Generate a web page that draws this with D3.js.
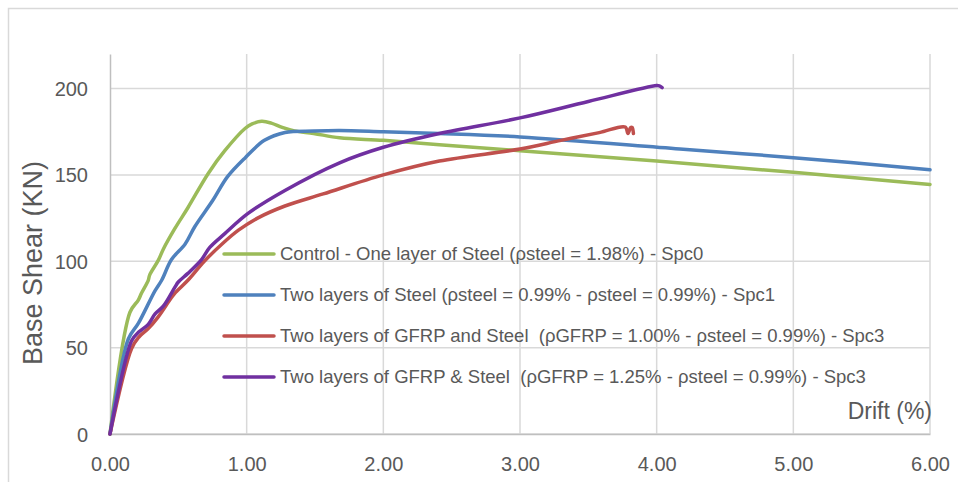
<!DOCTYPE html>
<html>
<head>
<meta charset="utf-8">
<script src="https://cdn.jsdelivr.net/npm/d3@7"></script>
<style>
  html, body { margin: 0; padding: 0; background: #fff; }
  svg { display: block; }
  text { font-family: "Liberation Sans", "DejaVu Sans", sans-serif; fill: #595959; white-space: pre; }
</style>
</head>
<body>
<svg id="chart" width="958" height="482"></svg>
<script>
// Base shear vs drift curves, one array of [drift %, shear kN] per specimen
const spc0 = [[0,0],[0.146,70.5],[0.207,77.5],[0.23,81.5],[0.28,89],[0.29,92],[0.353,100.5],[0.39,107],[0.475,119],[0.57,131],[0.72,151],[0.84,164],[0.99,177],[1.04,179.5],[1.11,181],[1.18,180],[1.26,177.5],[1.35,175.5],[1.49,174],[1.68,171.5],[2.0,170],[2.41,167.5],[3.0,164],[4.0,158],[5.0,151.5],[6.0,144.5]];
const spc1 = [[0,0],[0.134,55],[0.207,64],[0.33,83],[0.378,89],[0.45,101],[0.55,110],[0.62,120],[0.75,135],[0.86,149],[0.99,160],[1.13,170],[1.28,174.6],[1.49,175.4],[1.68,175.7],[2.0,175],[2.41,174],[3.0,172],[4.17,165],[5.0,160],[6.0,153]];
const spc3a = [[0,0],[0.158,49.5],[0.21,56],[0.28,61],[0.35,67.5],[0.45,79],[0.48,82],[0.57,89],[0.69,100],[0.82,110],[0.94,118],[1.08,125],[1.28,132],[1.56,139],[2.0,150],[2.41,158],[3.0,165],[3.3,170],[3.58,174.5],[3.77,177.7],[3.79,174],[3.81,177.5],[3.82,177.5],[3.83,174]];
const spc3b = [[0,0],[0.158,54],[0.21,59],[0.28,63.5],[0.33,69.5],[0.39,74],[0.475,85],[0.50,88],[0.57,93],[0.67,101],[0.73,108],[0.84,116],[1.01,127.7],[1.28,141],[1.68,157],[2.0,166],[2.41,174],[3.0,183],[3.5,192.5],[4.0,201.7],[4.02,201.5],[4.04,200.5]];

const seriesNames = [
  "Control - One layer of Steel (\u03C1steel = 1.98%) - Spc0",
  "Two layers of Steel (\u03C1steel = 0.99% - \u03C1steel = 0.99%) - Spc1",
  "Two layers of GFRP and Steel  (\u03C1GFRP = 1.00% - \u03C1steel = 0.99%) - Spc3",
  "Two layers of GFRP & Steel  (\u03C1GFRP = 1.25% - \u03C1steel = 0.99%) - Spc3"
];
const seriesData = [spc0, spc1, spc3a, spc3b];
const seriesColors = ["#9bbb59", "#4f81bd", "#c0504d", "#7030a0"];

const xTicks = [0, 1, 2, 3, 4, 5, 6];
const yTicks = [0, 50, 100, 150, 200];
const xTitle = "Drift (%)";
const yTitle = "Base Shear (KN)";

const svg = d3.select("#chart");
const m = { left: 110, right: 930, top: 54, bottom: 434 };

// chart frame
svg.append("rect")
  .attr("x", 8.5).attr("y", 8.5).attr("width", 960).attr("height", 490)
  .attr("fill", "none").attr("stroke", "#d9d9d9").attr("stroke-width", 1.5);

const x = d3.scaleLinear().domain([0, 6]).range([m.left, m.right]);
const y = d3.scaleLinear().domain([0, 220]).range([m.bottom, m.top]);

// gridlines
svg.append("g").selectAll("line").data(xTicks.slice(1)).join("line")
  .attr("x1", d => x(d)).attr("x2", d => x(d))
  .attr("y1", m.top).attr("y2", m.bottom)
  .attr("stroke", "#d9d9d9").attr("stroke-width", 1.5);
svg.append("g").selectAll("line").data(yTicks).join("line")
  .attr("x1", m.left).attr("x2", m.right)
  .attr("y1", d => y(d)).attr("y2", d => y(d))
  .attr("stroke", "#d9d9d9").attr("stroke-width", 1.5);

// axes
const yAxis = svg.append("g").attr("transform", `translate(${m.left},0)`)
  .call(d3.axisLeft(y).tickValues(yTicks).tickSize(0).tickPadding(22).tickFormat(d3.format("d")));
const xAxis = svg.append("g").attr("transform", `translate(0,${m.bottom})`)
  .call(d3.axisBottom(x).tickValues(xTicks).tickSize(0).tickPadding(27).tickFormat(d3.format(".2f")));
[yAxis, xAxis].forEach(g => {
  g.select(".domain").attr("stroke", "#bfbfbf").attr("stroke-width", 1.5);
  g.selectAll("text").attr("font-size", 20).attr("fill", "#595959")
    .attr("font-family", "Liberation Sans, sans-serif");
});
yAxis.selectAll("text").attr("dy", "0.35em");
xAxis.selectAll("text").attr("dy", "0.5em");

// curves
const line = d3.line().x(d => x(d[0])).y(d => y(d[1])).curve(d3.curveCatmullRom.alpha(0.5));
svg.append("g").selectAll("path").data(seriesData).join("path")
  .attr("d", line)
  .attr("fill", "none")
  .attr("stroke", (d, i) => seriesColors[i])
  .attr("stroke-width", 3.5)
  .attr("stroke-linejoin", "round")
  .attr("stroke-linecap", "round");

// legend
const legend = svg.append("g");
seriesNames.forEach((name, i) => {
  const ly = 254 + i * 41;
  legend.append("line")
    .attr("x1", 224).attr("x2", 274).attr("y1", ly).attr("y2", ly)
    .attr("stroke", seriesColors[i]).attr("stroke-width", 3.5).attr("stroke-linecap", "round");
  legend.append("text")
    .attr("x", 280).attr("y", ly).attr("dy", "0.35em")
    .attr("font-size", 18.5).text(name);
});

// axis titles
svg.append("text").attr("x", 932).attr("y", 419)
  .attr("text-anchor", "end").attr("font-size", 23).text(xTitle);
svg.append("text")
  .attr("transform", "translate(42,263) rotate(-90)")
  .attr("text-anchor", "middle").attr("font-size", 27).text(yTitle);
</script>
</body>
</html>
